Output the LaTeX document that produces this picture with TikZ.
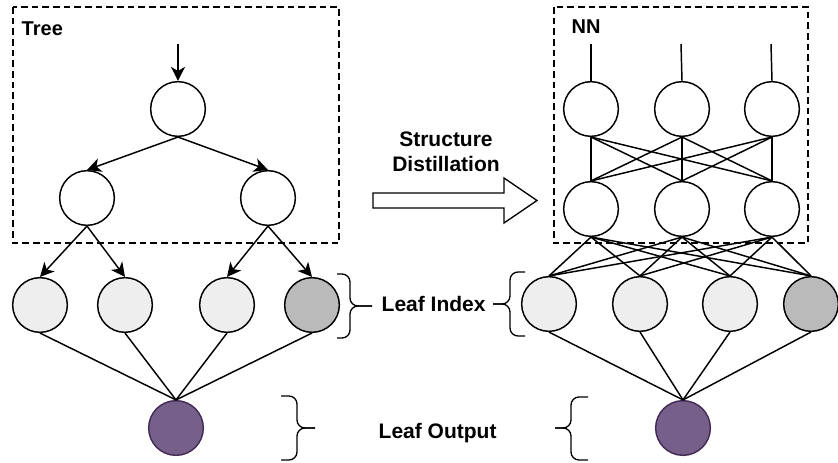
\documentclass[tikz,border=0pt]{standalone}
\usepackage{fontspec}
\setmainfont{Liberation Sans}
\usetikzlibrary{arrows.meta}
\definecolor{leaflight}{HTML}{EEEEEE}
\definecolor{leafdark}{HTML}{BABABA}
\definecolor{outfill}{HTML}{76608A}
\definecolor{outdraw}{HTML}{432D57}
\begin{document}
\begin{tikzpicture}[x=0.75pt,y=-0.75pt,line width=1.1pt,
  nd/.style={circle,draw,minimum size=41pt,inner sep=0pt,fill=white},
  leafl/.style={nd,fill=leaflight},
  leafd/.style={nd,fill=leafdark},
  outn/.style={nd,fill=outfill,draw=outdraw},
  arr/.style={-{Stealth[length=10.5pt,width=10.5pt,inset=3pt]}},
  dbox/.style={draw,dash pattern=on 5pt off 3pt,line width=1pt},
  biglbl/.style={font=\fontsize{15.75}{18.4}\selectfont\bfseries,inner sep=0pt},
  smalllbl/.style={font=\fontsize{15}{17}\selectfont\bfseries,inner sep=0pt},
  brace/.style={rounded corners=6pt,line width=1pt}]
\useasboundingbox (0,0) rectangle (838,463);

% dashed boxes
\draw[dbox] (13,7) rectangle (339,243);
\draw[dbox] (554,7) rectangle (808,243);
\node[smalllbl,anchor=base west] (treelbl) at (21,36) {Tree};
\node[smalllbl,anchor=base west] (nnlbl) at (571,34) {NN};

% ---------- Tree ----------
\coordinate (tin) at (178,44);
\node[nd] (root) at (178,109) {};
\node[nd] (ta) at (87,198) {};
\node[nd] (tb) at (268,198) {};
\node[leafl] (t1) at (40,305) {};
\node[leafl] (t2) at (125,305) {};
\node[leafl] (t3) at (227,305) {};
\node[leafd] (t4) at (312,305) {};
\node[outn] (tout) at (176,428) {};

\draw[arr] (tin) -- (root.north);
\draw[arr] (root.south) -- (ta.north);
\draw[arr] (root.south) -- (tb.north);
\draw[arr] (ta.south) -- (t1.north);
\draw[arr] (ta.south) -- (t2.north);
\draw[arr] (tb.south) -- (t3.north);
\draw[arr] (tb.south) -- (t4.north);
\foreach \l in {t1,t2,t3,t4} \draw (\l.south) -- (tout.north);

% ---------- NN ----------
\coordinate (nin1) at (591,44);
\coordinate (nin2) at (681,44);
\coordinate (nin3) at (771,44);
\node[nd] (a1) at (591,109) {};
\node[nd] (a2) at (682,109) {};
\node[nd] (a3) at (772,109) {};
\node[nd] (b1) at (591,209) {};
\node[nd] (b2) at (682,209) {};
\node[nd] (b3) at (772,209) {};
\node[leafl] (n1) at (549,304) {};
\node[leafl] (n2) at (640,304) {};
\node[leafl] (n3) at (730,304) {};
\node[leafd] (n4) at (811,304) {};
\node[outn] (nout) at (683,428) {};

\draw (nin1) -- (a1.north);
\draw (nin2) -- (a2.north);
\draw (nin3) -- (a3.north);
\foreach \u in {a1,a2,a3} \foreach \v in {b1,b2,b3} \draw (\u.south) -- (\v.north);
\foreach \u in {b1,b2,b3} \foreach \v in {n1,n2,n3,n4} \draw (\u.south) -- (\v.north);
\foreach \l in {n1,n2,n3,n4} \draw (\l.south) -- (nout.north);

% ---------- middle arrow ----------
\draw[line width=1pt] (373,193) -- (504,193) -- (504,178) -- (537,200.5) -- (504,223) -- (504,208) -- (373,208) -- cycle;
\node[biglbl,anchor=base] (sd1) at (446,147) {Structure};
\node[biglbl,anchor=base] (sd2) at (446,171.5) {Distillation};

% ---------- labels and braces ----------
\node[biglbl,anchor=base west] (li) at (381,311) {Leaf Index};
\node[biglbl,anchor=base west] (lo) at (378,438) {Leaf Output};

\draw[brace] (337,274) -- (350,274) -- (350,306) -- (372,306);
\draw[brace] (337,338) -- (350,338) -- (350,306) -- (372,306);

\draw[brace] (525,272) -- (510,272) -- (510,304) -- (493,304);
\draw[brace] (525,336) -- (510,336) -- (510,304) -- (493,304);

\draw[brace] (281,396) -- (297,396) -- (297,428) -- (315,428);
\draw[brace] (281,460) -- (297,460) -- (297,428) -- (315,428);

\draw[brace] (588,397) -- (571,397) -- (571,428) -- (555,428);
\draw[brace] (588,460) -- (571,460) -- (571,428) -- (555,428);
\end{tikzpicture}
\end{document}
